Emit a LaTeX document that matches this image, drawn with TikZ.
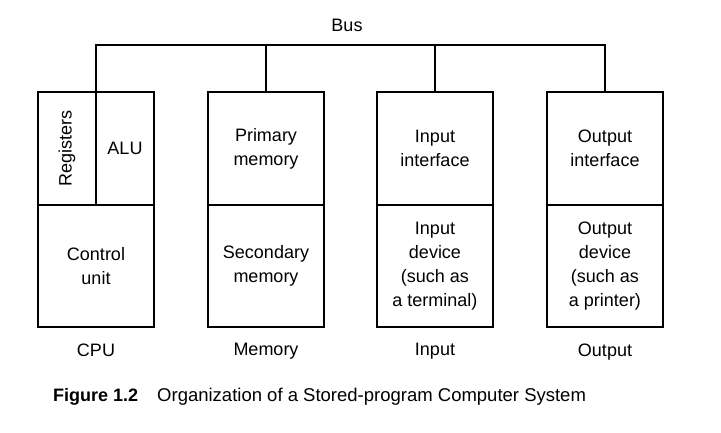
\documentclass[tikz,border=0pt]{standalone}
\usepackage{fontspec}
\setmainfont{Liberation Sans}
\usepackage{tikz}
\usetikzlibrary{positioning, calc}

\begin{document}
\begin{tikzpicture}[x=1pt, y=-1pt,
    node distance=54pt and 54pt,
    part/.style={draw, line width=1.8pt, outer sep=0pt, minimum width=116pt,
                 align=center, font=\fontsize{18}{24}\selectfont},
    top/.style={part, minimum height=113pt},
    bot/.style={part, minimum height=122pt},
    lbl/.style={font=\fontsize{18}{24}\selectfont},
    wire/.style={line width=1.3pt}
]
    \useasboundingbox (0,0) rectangle (721,433);

    % upper parts of the four units
    \node[top] (cputop) at (96,148.5) {};
    \node[top, right=54pt of cputop] (memtop) {Primary\\memory};
    \node[top, right=53pt of memtop] (intop) {Input\\interface};
    \node[top, right=54pt of intop] (outtop) {Output\\interface};

    % lower parts
    \node[bot, below=0pt of cputop] (cpubot) {Control\\unit};
    \node[bot, below=0pt of memtop] (membot) {Secondary\\memory};
    \node[bot, below=0pt of intop] (inbot) {Input\\device\\(such as\\a terminal)};
    \node[bot, below=0pt of outtop] (outbot) {Output\\device\\(such as\\a printer)};

    % registers and ALU
    \draw[line width=1.8pt] (cputop.north) -- (cputop.south);
    \node[lbl, rotate=90] (regs) at ([xshift=-29pt]cputop.center) {Registers};
    \node[lbl] (alu) at ([xshift=29pt]cputop.center) {ALU};

    % bus
    \coordinate (busy) at (0,45);
    \node[lbl] (bus) at (347,25) {Bus};
    \draw[wire] (cputop.north) -- (cputop.north |- busy)
        -- (outtop.north |- busy) -- (outtop.north);
    \foreach \n in {memtop, intop}
        \draw[wire] (\n.north) -- (\n.north |- busy);

    % unit names
    \node[lbl, below=13pt of cpubot] (cpuname) {CPU};
    \node[lbl, below=13pt of membot] (memname) {Memory};
    \node[lbl, below=13pt of inbot] (inname) {Input};
    \node[lbl, below=13pt of outbot] (outname) {Output};

    % caption
    \node[lbl, anchor=west, inner sep=0pt] (caption) at (53,397)
        {\textbf{Figure 1.2}\hspace{19pt}\fontsize{18.5}{24}\selectfont
         Organization of a Stored-program Computer System};
\end{tikzpicture}
\end{document}
